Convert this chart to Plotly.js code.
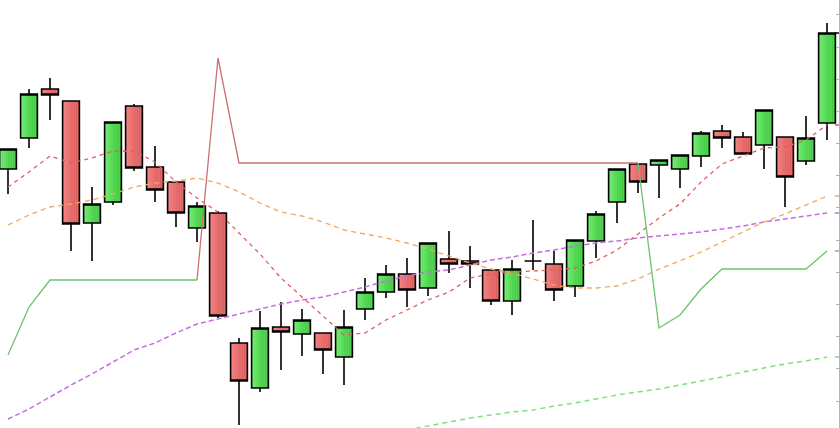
<!DOCTYPE html>
<html>
<head>
<meta charset="utf-8">
<script src="https://cdn.plot.ly/plotly-3.0.1.min.js"></script>
<style>
html,body{margin:0;padding:0;background:#fff;overflow:hidden;}
#chart{width:840px;height:428px;}
</style>
</head>
<body>
<div id="chart"></div>
<script>
// ---- data ----
const bars = [0,1,2,3,4,5,6,7,8,9,10,11,12,13,14,15,16,17,18,19,20,21,22,23,24,25,26,27,28,29,30,31,32,33,34,35,36,37,38,39];
const open  = [125.9,129.0,133.9,132.7,120.5,122.6,132.2,126.1,124.6,120.0,121.5,108.5,104.0,110.1,109.4,109.5,107.1,111.9,113.6,115.4,114.0,116.9,116.7,115.8,112.7,116.7,116.4,114.2,118.7,122.6,126.4,126.3,125.9,127.2,129.7,129.1,128.3,129.1,126.7,130.5];
const high  = [127.9,133.9,135.0,132.7,124.1,130.6,132.4,128.2,124.6,122.6,121.7,109.0,111.7,112.6,111.9,109.5,111.8,115.0,116.3,117.0,118.5,119.7,118.2,115.8,116.8,120.8,117.7,118.8,121.7,125.9,126.4,126.8,127.3,129.7,130.3,129.6,131.8,129.1,131.2,140.5];
const low   = [123.4,128.0,130.8,117.7,116.7,122.3,125.7,122.6,120.1,118.6,111.0,100.3,103.6,105.8,107.2,105.4,104.3,110.8,113.0,112.1,113.2,115.5,114.0,112.3,111.3,115.8,112.7,113.1,117.0,120.5,123.5,123.0,124.0,126.1,128.0,127.4,125.9,122.1,126.3,128.8];
const close = [127.9,133.4,133.3,120.4,122.4,130.6,126.0,123.8,121.5,122.2,111.2,104.7,110.0,109.6,110.8,107.8,110.1,113.6,115.4,113.8,118.5,116.4,116.4,112.7,115.9,116.7,113.8,118.8,121.4,125.9,124.6,126.8,127.3,129.5,129.0,127.4,131.8,125.1,129.0,139.5];

const maFast = [124.1,125.6,127.2,126.5,127.0,127.7,127.7,126.6,124.6,123.0,121.6,119.5,117.4,115.0,113.1,111.1,109.3,109.5,110.8,111.8,112.8,113.6,115.0,115.4,115.6,115.7,115.8,116.0,116.7,117.8,119.4,121.0,122.4,124.6,126.4,127.2,128.0,128.1,128.8,130.3];
const maMid  = [120.3,121.3,122.1,122.4,122.8,123.4,124.1,124.5,124.7,125.0,124.5,123.6,122.5,121.6,121.2,120.6,119.8,119.4,119.0,118.5,117.9,117.2,116.5,115.9,115.5,114.9,114.3,114.0,114.0,114.2,114.9,115.9,116.7,117.6,118.6,119.6,120.6,121.4,122.3,123.2];
const maSlow = [100.9,101.9,103.1,104.3,105.4,106.6,107.8,108.5,109.5,110.4,110.9,111.4,111.9,112.4,112.8,113.1,113.6,114.1,114.7,115.2,115.6,115.8,116.3,116.8,117.1,117.5,117.8,118.2,118.5,118.7,119.0,119.2,119.4,119.6,119.9,120.2,120.6,120.9,121.2,121.5];
const maLong = [null,null,null,null,null,null,null,null,null,null,null,null,null,null,null,null,null,null,null,99.8,100.2,100.6,101.0,101.3,101.6,101.8,102.2,102.5,102.9,103.3,103.6,103.9,104.3,104.7,105.1,105.6,106.0,106.4,106.7,107.1];

// trailing stop line, split by direction
const trendUp1 = [107.3,112.1,114.8,114.8,114.8,114.8,114.8,114.8,114.8,114.8,null,null,null,null,null,null,null,null,null,null,null,null,null,null,null,null,null,null,null,null,null,null,null,null,null,null,null,null,null,null];
const trendDown = [null,null,null,null,null,null,null,null,null,114.8,137.0,126.5,126.5,126.5,126.5,126.5,126.5,126.5,126.5,126.5,126.5,126.5,126.5,126.5,126.5,126.5,126.5,126.5,126.5,126.5,126.5,null,null,null,null,null,null,null,null,null];
const trendUp2 = [null,null,null,null,null,null,null,null,null,null,null,null,null,null,null,null,null,null,null,null,null,null,null,null,null,null,null,null,null,null,126.5,110.0,111.3,113.9,115.9,115.9,115.9,115.9,115.9,117.7];

// ---- styling ----
const X0 = -0.381, X1 = 39.571;
const Y0 = 100.0, Y1 = 142.8;
const N = 8, BODY = 0.8;
const redL = [242,128,128], redR = [218,88,88];
const grnL = [112,234,112], grnR = [58,198,58];
function mix(a,b,t){return 'rgb('+a.map((v,i)=>Math.round(v+(b[i]-v)*t)).join(',')+')';}

const traces = [];
const baseArr = bars.map(i => Math.min(open[i], close[i]));
const hArr = bars.map(i => Math.abs(close[i] - open[i]));
for (let k = 0; k < N; k++) {
  const t = k/(N-1);
  const cUp = mix(grnL, grnR, t), cDn = mix(redL, redR, t);
  traces.push({
    type:'bar', x:bars, y:hArr, base:baseArr,
    width: BODY/N + 0.012, offset: -BODY/2 + k*BODY/N,
    marker:{color: bars.map(i => close[i] > open[i] ? cUp : cDn), line:{width:0}},
    hoverinfo:'skip', showlegend:false
  });
}
traces.push({
  type:'candlestick', x:bars, open:open, high:high, low:low, close:close,
  increasing:{line:{color:'#000', width:1.6}, fillcolor:'rgba(0,0,0,0)'},
  decreasing:{line:{color:'#000', width:1.6}, fillcolor:'rgba(0,0,0,0)'},
  whiskerwidth:0, hoverinfo:'skip', showlegend:false
});
function line(y, color, width, dash){
  return {type:'scatter', mode:'lines', x:bars, y:y, line:{color:color, width:width, dash:dash},
          hoverinfo:'skip', showlegend:false, connectgaps:false};
}
traces.push(line(maSlow, '#c46ee0', 1.5, '5px,3px'));
traces.push(line(maLong, '#7fe07f', 1.5, '5px,4px'));
traces.push(line(maMid, '#f0a860', 1.3, '5px,4px'));
traces.push(line(maFast, '#df5f5f', 1.3, '4px,4px'));
traces.push(line(trendUp1, '#6cc46c', 1.3, 'solid'));
traces.push(line(trendDown, '#cc7070', 1.3, 'solid'));
traces.push(line(trendUp2, '#6cc46c', 1.3, 'solid'));

// last-value markers at the price axis
const lastVals = [close[39], maFast[39], maMid[39], maSlow[39], trendUp2[39], maLong[39]];
const lastCols = ['#000000', '#df5f5f', '#f0a860', '#c46ee0', '#6cc46c', '#7fe07f'];
traces.push({
  type:'scatter', mode:'markers', x:lastVals.map(() => X1), y:lastVals,
  marker:{symbol:'line-ew', size:6, line:{color:lastCols, width:1.5}},
  cliponaxis:false, hoverinfo:'skip', showlegend:false
});

const layout = {
  width:840, height:428,
  margin:{l:0, r:1, t:0, b:0, pad:0},
  paper_bgcolor:'#ffffff', plot_bgcolor:'#ffffff',
  showlegend:false, barmode:'overlay', boxgap:0.2, boxgroupgap:0,
  hovermode:false,
  xaxis:{range:[X0, X1], visible:false, rangeslider:{visible:false}, fixedrange:true},
  yaxis:{range:[Y0, Y1], side:'right', showline:true, linecolor:'#b4b4b4', linewidth:1,
         ticks:'inside', ticklen:3, tickcolor:'#b4b4b4', tick0:102.7, dtick:3.217,
         showticklabels:false, showgrid:false, zeroline:false, fixedrange:true}
};
Plotly.newPlot('chart', traces, layout, {staticPlot:true, displayModeBar:false});
</script>
</body>
</html>
